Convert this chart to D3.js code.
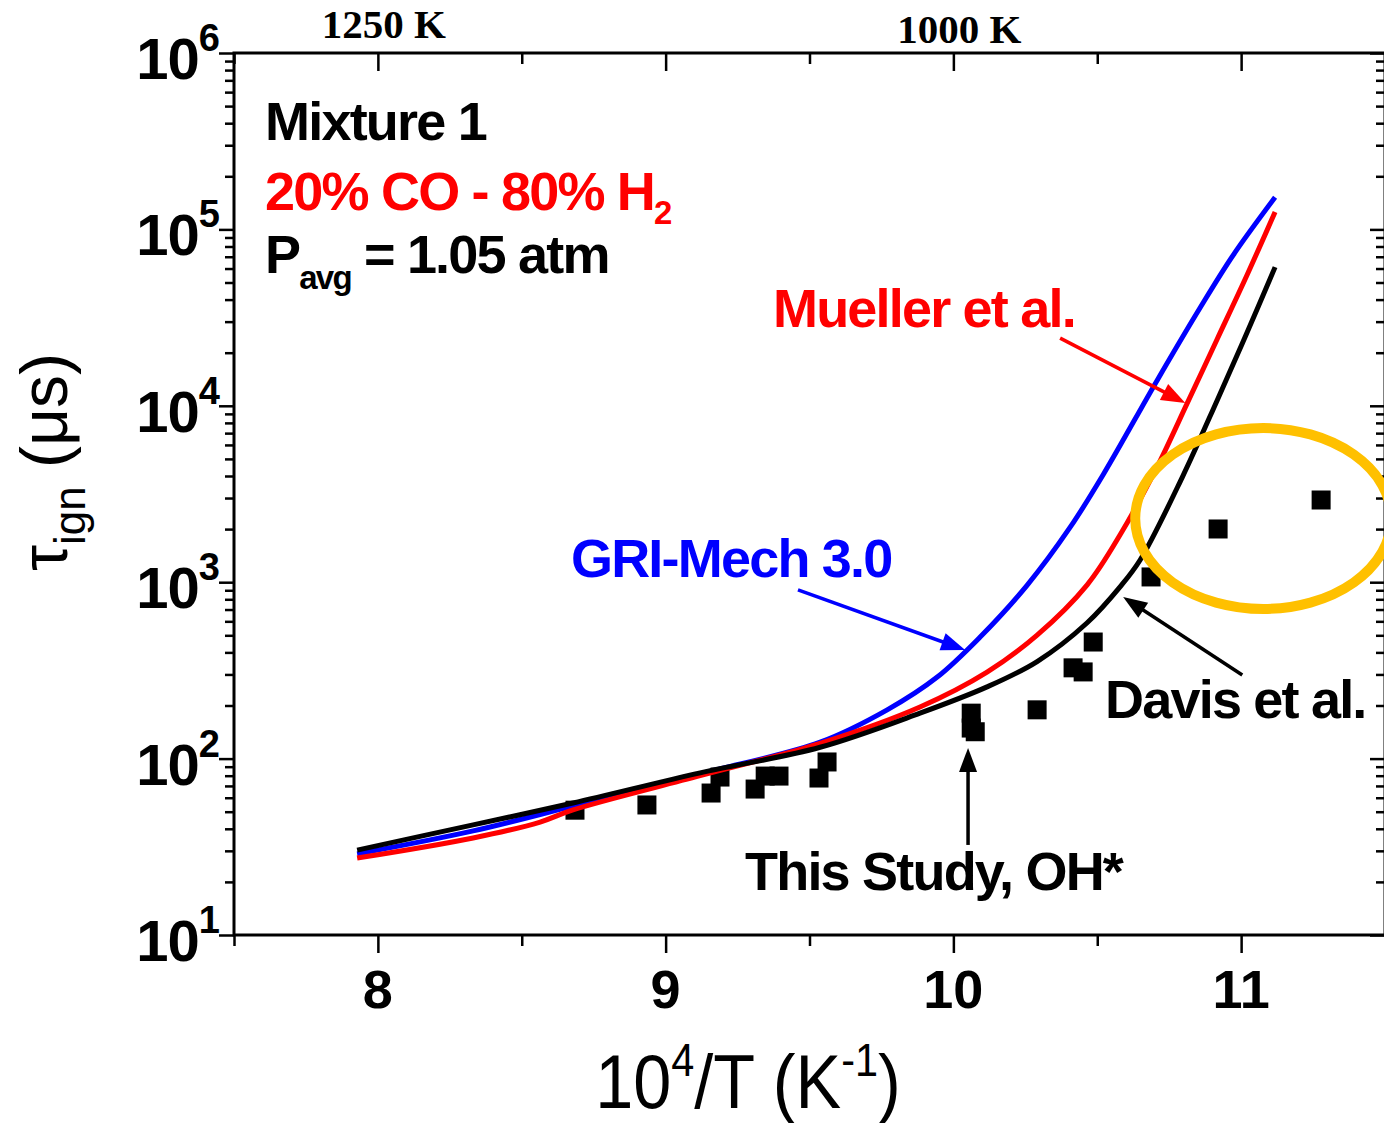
<!DOCTYPE html>
<html>
<head>
<meta charset="utf-8">
<script src="https://cdn.jsdelivr.net/npm/d3@7"></script>
<style>
  body { margin: 0; background: #fff; }
  svg { display: block; }
  .tick line { stroke: #000; stroke-width: 2.5; }
  .lbl { font-family: "Liberation Sans", Arial, sans-serif; font-weight: bold; }
</style>
</head>
<body>
<div id="chart"></div>
<script>
// ---- data ----
// measured ignition delays (this study, OH*)
var expX   = [8.685, 8.935, 9.158, 9.189, 9.311, 9.346, 9.394, 9.533, 9.561, 10.062, 10.062, 10.076, 10.291, 10.416, 10.451, 10.486, 10.687, 10.92, 11.278];
var expTau = [51, 54.6, 63.8, 78.6, 67.2, 79.6, 79.6, 77.6, 95.7, 181, 149, 142, 189, 327, 310, 458, 1071, 2003, 2924];

// GRI-Mech 3.0 model
var griX   = [7.928, 8.331, 8.678, 9.12, 9.537, 9.770, 9.944, 10.093, 10.256, 10.406, 10.520, 10.708, 10.858, 10.972, 11.118];
var griTau = [28.8, 38.9, 53.8, 82, 124, 189, 290, 489, 960, 2050, 4055, 13930, 36060, 71300, 152000];

// Mueller et al. model
var muellerX   = [7.928, 8.331, 8.564, 8.678, 9.12, 9.537, 9.884, 10.117, 10.291, 10.465, 10.580, 10.708, 10.812, 10.917, 11.021, 11.118];
var muellerTau = [27.3, 35.5, 43.7, 51.2, 80, 122, 196, 309, 501, 966, 1862, 4500, 10280, 23930, 55340, 125600];

// Davis et al. model
var davisX   = [7.928, 8.331, 8.678, 9.12, 9.537, 9.884, 10.117, 10.291, 10.465, 10.580, 10.649, 10.795, 10.917, 11.021, 11.118];
var davisTau = [30.3, 42.1, 56.0, 83, 116, 181, 255, 355, 589, 944, 1336, 3920, 10760, 26100, 61100];

// axis ticks
var xMajor = [8, 9, 10, 11];
var xMinor = [7.5, 8.5, 9.5, 10.5, 11.5];
var yDecades = [1, 2, 3, 4, 5, 6];
var topTickValues = [8, 10];
var topTickLabels = ["1250 K", "1000 K"];

var width = 1384, height = 1123;
var margins = {top: 53, left: 234, right: -1, bottom: 188};
var plotR = width - margins.right, plotB = height - margins.bottom;

var x = d3.scaleLinear().domain([7.5, 11.5]).range([margins.left, plotR]);
var y = d3.scaleLog().domain([10, 1e6]).range([plotB, margins.top]);

var yMajor = yDecades.map(function (d) { return Math.pow(10, d); });
var yMinor = [];
yDecades.slice(0, 5).forEach(function (d) {
  for (var k = 2; k <= 9; k++) yMinor.push(k * Math.pow(10, d));
});

var svg = d3.select("#chart").append("svg")
  .attr("width", width)
  .attr("height", height);

svg.append("rect").attr("width", width).attr("height", height).attr("fill", "#fff");

// ---- axes ----
function addAxis(axisFn, scale, values, size, transform) {
  var g = svg.append("g")
    .attr("transform", transform)
    .call(axisFn(scale).tickValues(values).tickSize(size).tickSizeOuter(0).tickFormat(""));
  g.select(".domain").remove();
}
addAxis(d3.axisLeft, y, yMajor, 15, "translate(" + margins.left + ",0)");
addAxis(d3.axisLeft, y, yMinor, 9, "translate(" + margins.left + ",0)");
addAxis(d3.axisLeft, y, yMajor, 15, "translate(" + plotR + ",0)");
addAxis(d3.axisLeft, y, yMinor, 9, "translate(" + plotR + ",0)");
addAxis(d3.axisBottom, x, xMajor, 18, "translate(0," + plotB + ")");
addAxis(d3.axisBottom, x, xMinor, 11, "translate(0," + plotB + ")");
addAxis(d3.axisBottom, x, xMajor, 18, "translate(0," + margins.top + ")");
addAxis(d3.axisBottom, x, xMinor, 11, "translate(0," + margins.top + ")");

svg.append("rect")
  .attr("x", margins.left).attr("y", margins.top)
  .attr("width", plotR - margins.left).attr("height", plotB - margins.top)
  .attr("fill", "none").attr("stroke", "#000").attr("stroke-width", 3);

// y tick labels 10^n
var yl = svg.selectAll("text.ylab").data(yMajor).enter().append("text")
  .attr("class", "lbl ylab")
  .attr("text-anchor", "end")
  .attr("x", 219)
  .attr("y", function (d) { return y(d) + 26; })
  .attr("font-size", 58)
  .attr("letter-spacing", -1);
yl.append("tspan").text("10");
yl.append("tspan").attr("font-size", 38).attr("dy", -28)
  .text(function (d) { return Math.round(Math.log10(d)); });

// x tick labels
svg.selectAll("text.xlab").data(xMajor).enter().append("text")
  .attr("class", "lbl xlab")
  .attr("text-anchor", "middle")
  .attr("x", function (d) { return x(d); })
  .attr("y", 1008)
  .attr("font-size", 54)
  .text(function (d) { return d; });

// top temperature labels
svg.selectAll("text.tlab").data(topTickValues).enter().append("text")
  .attr("text-anchor", "middle")
  .attr("x", function (d) { return x(d) + 6; })
  .attr("y", function (d, i) { return i === 0 ? 38 : 43; })
  .attr("font-family", "'Liberation Serif', 'Times New Roman', serif")
  .attr("font-weight", "bold")
  .attr("font-size", 41)
  .text(function (d, i) { return topTickLabels[i]; });

// axis titles
var xt = svg.append("text")
  .attr("transform", "translate(748,1108) scale(0.9,1)")
  .attr("text-anchor", "middle")
  .attr("font-family", "'Liberation Sans', Arial, sans-serif")
  .attr("font-size", 76);
xt.append("tspan").text("10");
xt.append("tspan").attr("font-size", 46).attr("dy", -32).text("4");
xt.append("tspan").attr("dy", 32).text("/T (K");
xt.append("tspan").attr("font-size", 46).attr("dy", -32).text("-1");
xt.append("tspan").attr("dy", 32).text(")");

var ytl = svg.append("text")
  .attr("transform", "translate(67,462) rotate(-90)")
  .attr("text-anchor", "middle")
  .attr("font-family", "'Liberation Sans', Arial, sans-serif")
  .attr("font-size", 66);
ytl.append("tspan").text("\u03C4");
ytl.append("tspan").attr("font-size", 44).attr("dy", 18).text("ign");
ytl.append("tspan").attr("dy", -18).text(" (\u03BCs)");

// ---- data marks ----
var sq = 19;
svg.selectAll("rect.pt").data(expX).enter().append("rect")
  .attr("class", "pt")
  .attr("x", function (d) { return x(d) - sq / 2; })
  .attr("y", function (d, i) { return y(expTau[i]) - sq / 2; })
  .attr("width", sq).attr("height", sq)
  .attr("fill", "#000");

var line = d3.line()
  .x(function (d) { return x(d[0]); })
  .y(function (d) { return y(d[1]); })
  .curve(d3.curveCatmullRom.alpha(0.5));

function series(xs, ts) { return xs.map(function (v, i) { return [v, ts[i]]; }); }

[[griX, griTau, "#0000ff"], [muellerX, muellerTau, "#ff0000"], [davisX, davisTau, "#000000"]]
  .forEach(function (s) {
    svg.append("path")
      .datum(series(s[0], s[1]))
      .attr("d", line)
      .attr("fill", "none")
      .attr("stroke", s[2])
      .attr("stroke-width", 5);
  });

// highlight ellipse around the low temperature points
var eL = x(10.632), eR = x(11.522), eT = y(7480), eB = y(705);
svg.append("ellipse")
  .attr("cx", (eL + eR) / 2).attr("cy", (eT + eB) / 2)
  .attr("rx", (eR - eL) / 2).attr("ry", (eB - eT) / 2)
  .attr("fill", "none").attr("stroke", "#ffc000").attr("stroke-width", 10);

// ---- annotations ----
function arrow(x1, t1, x2, t2, color) {
  var ax = x(x1), ay = y(t1), bx = x(x2), by = y(t2);
  var ang = Math.atan2(by - ay, bx - ax), hl = 24, hw = 9;
  var cx = bx - hl * Math.cos(ang), cy = by - hl * Math.sin(ang);
  svg.append("line")
    .attr("x1", ax).attr("y1", ay).attr("x2", cx + 2 * Math.cos(ang)).attr("y2", cy + 2 * Math.sin(ang))
    .attr("stroke", color).attr("stroke-width", 3.5);
  svg.append("polygon")
    .attr("points", [
      [bx, by],
      [cx + hw * Math.sin(ang), cy - hw * Math.cos(ang)],
      [cx - hw * Math.sin(ang), cy + hw * Math.cos(ang)]
    ].map(function (p) { return p.join(","); }).join(" "))
    .attr("fill", color);
}
arrow(10.371, 24200, 10.806, 10370, "#ff0000");
arrow(9.460, 904, 10.041, 413, "#0000ff");
arrow(11.004, 298, 10.590, 824, "#000000");
arrow(10.051, 32.4, 10.051, 115, "#000000");

function label(xv, tv, txt, color) {
  return svg.append("text")
    .attr("class", "lbl")
    .attr("x", x(xv)).attr("y", y(tv))
    .attr("font-size", 54)
    .attr("letter-spacing", -1.8)
    .attr("fill", color)
    .text(txt);
}
label(7.608, 3.21e5, "Mixture 1", "#000");
var co = label(7.608, 1.29e5, "20% CO - 80% H", "#ff0000");
co.append("tspan").attr("font-size", 33).attr("dy", 14).text("2");
var pa = label(7.608, 56600, "P", "#000");
pa.append("tspan").attr("font-size", 33).attr("dy", 16).text("avg");
pa.append("tspan").attr("dy", -16).text(" = 1.05 atm");
label(9.373, 28000, "Mueller et al.", "#ff0000");
label(8.671, 1070, "GRI-Mech 3.0", "#0000ff");
label(10.527, 170, "Davis et al.", "#000");
label(9.276, 18.0, "This Study, OH*", "#000");
</script>
</body>
</html>
